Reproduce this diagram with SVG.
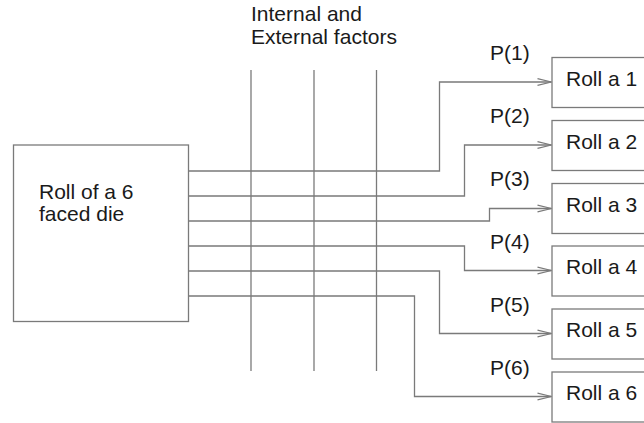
<svg xmlns="http://www.w3.org/2000/svg" width="644" height="423" viewBox="0 0 644 423">
  <style>
    .box { fill: #ffffff; stroke: #7a7a7a; stroke-width: 1.3; }
    .wire { fill: none; stroke: #7a7a7a; stroke-width: 1.3; }
    .factor { fill: none; stroke: #7a7a7a; stroke-width: 1.3; }
    .label { font-family: "Liberation Sans", Arial, Helvetica, sans-serif; font-size: 21px; fill: #1a1a1a; }
  </style>
  <defs>
    <marker id="open-arrow" markerUnits="userSpaceOnUse" markerWidth="18" markerHeight="12" refX="15" refY="5" orient="auto" viewBox="0 0 18 10">
      <path d="M1,1.6 L15,5 L1,8.4" fill="none" stroke="#7a7a7a" stroke-width="1.2"/>
    </marker>
  </defs>
  <rect width="644" height="423" fill="#ffffff"/>

  <!-- Internal and external factors -->
  <g id="factors">
    <text class="label" x="251" y="20.5">Internal and</text>
    <text class="label" x="251" y="44">External factors</text>
    <line class="factor" x1="251" y1="70" x2="251" y2="371"/>
    <line class="factor" x1="314" y1="70" x2="314" y2="371"/>
    <line class="factor" x1="376.5" y1="70" x2="376.5" y2="371"/>
  </g>

  <!-- Source: the die roll -->
  <g id="die">
    <rect class="box" x="13.5" y="145" width="175" height="176.5"/>
    <text class="label" x="39" y="198.5">Roll of a 6</text>
    <text class="label" x="39" y="220.5">faced die</text>
  </g>

  <!-- Connectors from the die to each outcome -->
  <g id="connectors">
    <polyline class="wire" points="188.5,171 439.5,171 439.5,82 551.5,82" marker-end="url(#open-arrow)"/>
    <polyline class="wire" points="188.5,196 464.5,196 464.5,145 551.5,145" marker-end="url(#open-arrow)"/>
    <polyline class="wire" points="188.5,221 489.5,221 489.5,208.5 551.5,208.5" marker-end="url(#open-arrow)"/>
    <polyline class="wire" points="188.5,246 464.5,246 464.5,270.5 551.5,270.5" marker-end="url(#open-arrow)"/>
    <polyline class="wire" points="188.5,271 439.5,271 439.5,333.5 551.5,333.5" marker-end="url(#open-arrow)"/>
    <polyline class="wire" points="188.5,296 414.5,296 414.5,396.5 551.5,396.5" marker-end="url(#open-arrow)"/>
  </g>

  <!-- Probability labels -->
  <g id="probabilities">
    <text class="label" x="490" y="60">P(1)</text>
    <text class="label" x="490" y="123">P(2)</text>
    <text class="label" x="490" y="186">P(3)</text>
    <text class="label" x="490" y="249">P(4)</text>
    <text class="label" x="490" y="312">P(5)</text>
    <text class="label" x="490" y="375">P(6)</text>
  </g>

  <!-- Outcomes -->
  <g id="outcome-1">
    <rect class="box" x="552" y="57.5" width="110" height="50"/>
    <text class="label" x="566" y="85.5">Roll a 1</text>
  </g>
  <g id="outcome-2">
    <rect class="box" x="552" y="120.5" width="110" height="50"/>
    <text class="label" x="566" y="148.5">Roll a 2</text>
  </g>
  <g id="outcome-3">
    <rect class="box" x="552" y="183.5" width="110" height="50"/>
    <text class="label" x="566" y="211.5">Roll a 3</text>
  </g>
  <g id="outcome-4">
    <rect class="box" x="552" y="246" width="110" height="50"/>
    <text class="label" x="566" y="274">Roll a 4</text>
  </g>
  <g id="outcome-5">
    <rect class="box" x="552" y="309" width="110" height="50"/>
    <text class="label" x="566" y="337">Roll a 5</text>
  </g>
  <g id="outcome-6">
    <rect class="box" x="552" y="372" width="110" height="50"/>
    <text class="label" x="566" y="400">Roll a 6</text>
  </g>
</svg>
